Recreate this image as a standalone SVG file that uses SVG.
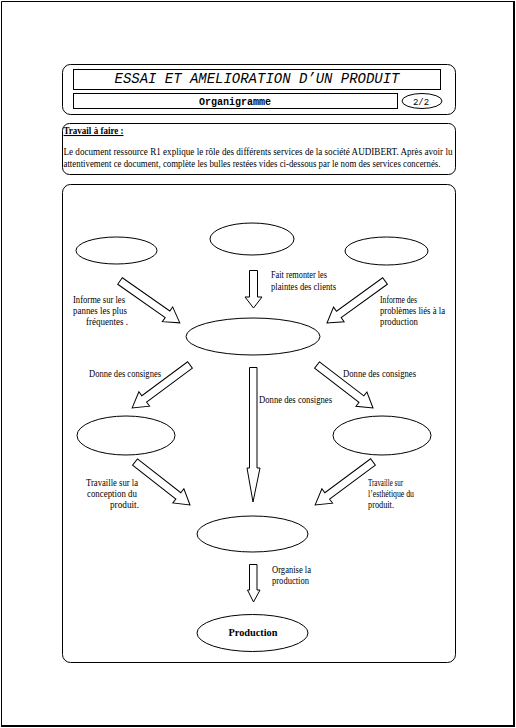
<svg xmlns="http://www.w3.org/2000/svg" width="516" height="728" viewBox="0 0 516 728">
<defs>
<style>
.ln{fill:none;stroke:#000;stroke-width:1}
.bx{fill:#fff;stroke:#000;stroke-width:1}
.ar{fill:#fff;stroke:#000;stroke-width:1;stroke-linejoin:miter}
.t{font-family:"Liberation Serif","Times New Roman",serif;font-size:10.5px;fill:#000}
.m{font-family:"Liberation Mono","Courier New",monospace;fill:#000}
</style>
</defs>
<rect x="0" y="0" width="516" height="728" fill="#fff"/>
<g id="page">
<path class="ln" d="M1.5,726 V1.5 H514"/>
<path d="M514,1 V726 H1" fill="none" stroke="#000" stroke-width="2"/>
</g>
<g id="header">
<rect class="bx" x="62.5" y="64.5" width="393" height="50" rx="8" ry="8"/>
<rect class="bx" x="73.5" y="69.5" width="367" height="20"/>
<text class="m" x="257" y="83" font-size="14" font-style="italic" text-anchor="middle" textLength="285" lengthAdjust="spacingAndGlyphs">ESSAI ET AMELIORATION D’UN PRODUIT</text>
<rect class="bx" x="73.5" y="93.5" width="324" height="15"/>
<text class="m" x="235" y="105" font-size="10" font-weight="bold" text-anchor="middle">Organigramme</text>
<ellipse class="bx" cx="422" cy="101" rx="20" ry="7.5"/>
<text class="m" x="421" y="104.5" font-size="9" text-anchor="middle">2/2</text>
</g>
<g id="instructions">
<rect class="bx" x="62.5" y="123.5" width="393" height="51" rx="7" ry="7"/>
<text class="t" x="63.5" y="134" font-weight="bold" text-decoration="underline" textLength="60" lengthAdjust="spacingAndGlyphs">Travail à faire :</text>
<text class="t" x="63.5" y="155" textLength="389" lengthAdjust="spacingAndGlyphs">Le document ressource R1 explique le rôle des différents services de la société AUDIBERT. Après avoir lu</text>
<text class="t" x="63.5" y="167" textLength="377" lengthAdjust="spacingAndGlyphs">attentivement ce document, complète les bulles restées vides ci-dessous par le nom des services concernés.</text>
</g>
<g id="frame">
<rect class="bx" x="62.5" y="184.5" width="393" height="478" rx="8" ry="8"/>
</g>
<g id="node-top-left"><ellipse class="bx" cx="116.5" cy="250.5" rx="40.5" ry="13.5"/></g>
<g id="node-top-center"><ellipse class="bx" cx="252" cy="239" rx="42" ry="16"/></g>
<g id="node-top-right"><ellipse class="bx" cx="386.5" cy="251" rx="41.5" ry="14"/></g>
<g id="node-center"><ellipse class="bx" cx="253" cy="336.5" rx="67" ry="18.5"/></g>
<g id="node-mid-left"><ellipse class="bx" cx="126" cy="435.5" rx="49" ry="19.5"/></g>
<g id="node-mid-right"><ellipse class="bx" cx="382" cy="435.5" rx="49" ry="19.5"/></g>
<g id="node-bottom"><ellipse class="bx" cx="252.5" cy="534" rx="55.5" ry="18"/></g>
<g id="node-production">
<ellipse class="bx" cx="252.5" cy="633" rx="55.5" ry="18.5"/>
<text class="t" x="253" y="636" font-weight="bold" text-anchor="middle" textLength="49" lengthAdjust="spacingAndGlyphs">Production</text>
</g>
<g id="connectors">
<polygon class="ar" points="249.5,270.5 257.5,270.5 257.5,297 262,297 253.5,308 245,297 249.5,297"/>
<polygon class="ar" transform="translate(120,281) rotate(35)" points="0,-4 58,-4 58,-9 73,0 58,9 58,4 0,4"/>
<polygon class="ar" transform="translate(385,281) rotate(144.1)" points="0,-4 57,-4 57,-9 71.6,0 57,9 57,4 0,4"/>
<polygon class="ar" transform="translate(190,365) rotate(143.4)" points="0,-4 57,-4 57,-9 72,0 57,9 57,4 0,4"/>
<polygon class="ar" transform="translate(317,365) rotate(37.5)" points="0,-4 56,-4 56,-9 70.6,0 56,9 56,4 0,4"/>
<polygon class="ar" points="249.5,367.5 257,367.5 257,468 260,468 253,502 247,468 249.5,468"/>
<polygon class="ar" transform="translate(135,462) rotate(38)" points="0,-4 55,-4 55,-9 69.8,0 55,9 55,4 0,4"/>
<polygon class="ar" transform="translate(373,462) rotate(143.4)" points="0,-4 57,-4 57,-9 72,0 57,9 57,4 0,4"/>
<polygon class="ar" points="249.5,564.5 257,564.5 257,590 260,590 253.5,602 247.5,590 249.5,590"/>
</g>
<g id="labels">
<text class="t" x="271" y="278" textLength="56" lengthAdjust="spacingAndGlyphs">Fait remonter les</text>
<text class="t" x="271" y="290" textLength="65" lengthAdjust="spacingAndGlyphs">plaintes des clients</text>
<text class="t" x="73" y="303" textLength="52" lengthAdjust="spacingAndGlyphs">Informe sur les</text>
<text class="t" x="73" y="314" textLength="54" lengthAdjust="spacingAndGlyphs">pannes les plus</text>
<text class="t" x="86" y="325" textLength="42" lengthAdjust="spacingAndGlyphs">fréquentes .</text>
<text class="t" x="380" y="303" textLength="37" lengthAdjust="spacingAndGlyphs">Informe des</text>
<text class="t" x="380" y="314" textLength="65" lengthAdjust="spacingAndGlyphs">problèmes liés à la</text>
<text class="t" x="380" y="325" textLength="38" lengthAdjust="spacingAndGlyphs">production</text>
<text class="t" x="89" y="377" textLength="72" lengthAdjust="spacingAndGlyphs">Donne des consignes</text>
<text class="t" x="343" y="377" textLength="73" lengthAdjust="spacingAndGlyphs">Donne des consignes</text>
<text class="t" x="259" y="403" textLength="73" lengthAdjust="spacingAndGlyphs">Donne des consignes</text>
<text class="t" x="86" y="486" textLength="52" lengthAdjust="spacingAndGlyphs">Travaille sur la</text>
<text class="t" x="87" y="497" textLength="50" lengthAdjust="spacingAndGlyphs">conception du</text>
<text class="t" x="110" y="508" textLength="29" lengthAdjust="spacingAndGlyphs">produit.</text>
<text class="t" x="368" y="486" textLength="35" lengthAdjust="spacingAndGlyphs">Travaille sur</text>
<text class="t" x="368" y="497" textLength="46" lengthAdjust="spacingAndGlyphs">l’esthétique du</text>
<text class="t" x="368" y="508" textLength="26" lengthAdjust="spacingAndGlyphs">produit.</text>
<text class="t" x="272" y="573" textLength="39" lengthAdjust="spacingAndGlyphs">Organise la</text>
<text class="t" x="272" y="584" textLength="37" lengthAdjust="spacingAndGlyphs">production</text>
</g>
</svg>
